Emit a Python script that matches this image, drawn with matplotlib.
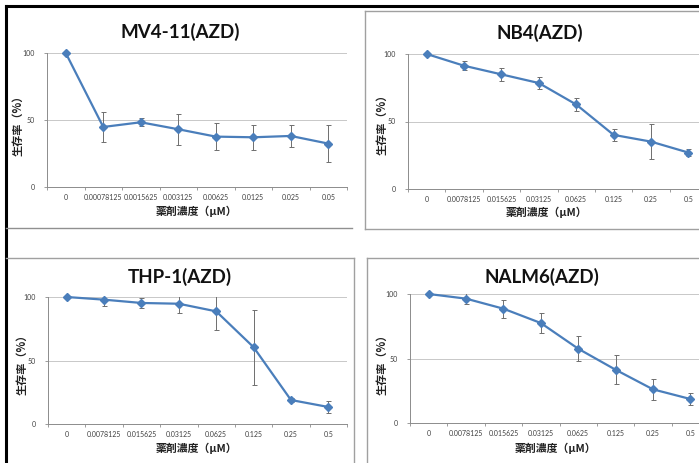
import matplotlib.pyplot as plt
from matplotlib.lines import Line2D

plt.rcParams['font.family'] = ['Lato', 'Noto Sans CJK JP', 'DejaVu Sans']

W, H = 699, 463

# --- data ---
mv4_labels = ['0', '0.00078125', '0.0015625', '0.003125', '0.00625', '0.0125', '0.025', '0.05']
mv4_values = [100, 44.8, 48.3, 43.1, 37.6, 37.1, 38.1, 32.4]
mv4_errors = [0, 11.2, 3.0, 11.7, 9.9, 9.5, 8.2, 14.1]

nb4_labels = ['0', '0.0078125', '0.015625', '0.03125', '0.0625', '0.125', '0.25', '0.5']
nb4_values = [100, 91.3, 84.9, 78.5, 62.6, 40.1, 35.1, 27.0]
nb4_errors = [0, 3.5, 4.8, 4.3, 4.8, 4.7, 12.9, 2.7]

thp1_labels = ['0', '0.0078125', '0.015625', '0.03125', '0.0625', '0.125', '0.25', '0.5']
thp1_values = [100, 97.9, 95.3, 94.7, 88.7, 60.5, 18.9, 13.4]
thp1_errors = [0, 4.8, 3.7, 7.5, 14.5, 29.5, 1.8, 4.6]

nalm6_labels = ['0', '0.0078125', '0.015625', '0.03125', '0.0625', '0.125', '0.25', '0.5']
nalm6_values = [100, 96.4, 88.6, 77.5, 57.6, 41.3, 26.1, 18.6]
nalm6_errors = [0, 4.5, 7.1, 7.6, 9.7, 11.3, 8.1, 5.0]

LINE_BLUE = '#4a7ebb'
GRID = '#c8c8c8'
AXIS = '#8c8c8c'
TEXT = '#404040'


def px_axes(fig, left, right, top, bottom):
    return fig.add_axes([left / W, 1 - bottom / H, (right - left) / W, (bottom - top) / H])


def draw_chart(fig, box, title, labels, values, errors, title_xy, ylabel_xy, xlabel_xy):
    ax = px_axes(fig, *box)
    xs = list(range(len(labels)))
    ax.errorbar(xs, values, yerr=errors, fmt='none', ecolor='#6e6e6e', elinewidth=0.7,
                capsize=1.8, capthick=0.7, zorder=2)
    ax.plot(xs, values, color=LINE_BLUE, lw=1.6, marker='D', ms=3.6, mfc=LINE_BLUE,
            mec=LINE_BLUE, zorder=3, clip_on=False)
    ax.set_xlim(-0.5, len(labels) - 0.5)
    ax.set_ylim(0, 100)
    ax.set_yticks([0, 50, 100])
    ax.set_yticklabels(['0', '50', '100'], fontsize=5, color=TEXT)
    ax.set_xticks(xs)
    ax.set_xticklabels(labels, fontsize=5, color=TEXT)
    ax.set_xticks([x - 0.5 for x in range(len(labels) + 1)], minor=True)
    ax.tick_params(axis='x', which='major', length=0, pad=5)
    ax.tick_params(axis='x', which='minor', length=2.5, color=AXIS, width=0.6)
    ax.tick_params(axis='y', length=2.5, color=AXIS, width=0.6, pad=6)
    ax.grid(axis='y', color=GRID, lw=0.7)
    ax.set_axisbelow(True)
    for side in ['top', 'right']:
        ax.spines[side].set_visible(False)
    for side in ['left', 'bottom']:
        ax.spines[side].set_color(AXIS)
        ax.spines[side].set_linewidth(0.7)

    fig.text(title_xy[0] / W, 1 - title_xy[1] / H, title, fontsize=13.5, fontweight='bold',
             ha='center', va='center', color='#111111')
    fig.text(ylabel_xy[0] / W, 1 - ylabel_xy[1] / H, '生存率（%）', fontsize=8,
             fontweight='bold', rotation=90, ha='center', va='center', color='#222222',
             family=['Noto Sans CJK JP', 'DejaVu Sans'])
    fig.text(xlabel_xy[0] / W, 1 - xlabel_xy[1] / H, '薬剤濃度（μM）', fontsize=7.8,
             fontweight='bold', ha='center', va='center', color='#222222',
             family=['Noto Sans CJK JP', 'DejaVu Sans'])
    return ax


def frame_line(fig, xs, ys, color, lw):
    fig.add_artist(Line2D([x / W for x in xs], [1 - y / H for y in ys], color=color, lw=lw,
                          transform=fig.transFigure))


def main():
    fig = plt.figure(figsize=(W / 100, H / 100), dpi=100)

    # screenshot frames around the four charts
    frame_line(fig, [6, W], [6, 6], 'black', 2.2)
    frame_line(fig, [6, 6], [6, H], 'black', 2.2)
    frame_line(fig, [6, 352], [228, 228], '#909090', 1.0)
    frame_line(fig, [365, W], [229, 229], '#a0a0a0', 1.0)
    frame_line(fig, [365, 365], [11, 229], '#a0a0a0', 1.0)
    frame_line(fig, [365, W], [11, 11], '#a0a0a0', 1.0)
    frame_line(fig, [6, 354], [258, 258], '#a0a0a0', 1.0)
    frame_line(fig, [354, 354], [258, H], '#a0a0a0', 1.0)
    frame_line(fig, [367, W], [258, 258], '#a0a0a0', 1.0)
    frame_line(fig, [367, 367], [258, H], '#a0a0a0', 1.0)

    draw_chart(fig, (47, 347, 53, 187), 'MV4-11(AZD)', mv4_labels, mv4_values, mv4_errors,
               (180, 32), (18, 123), (197, 211))
    draw_chart(fig, (408, 707, 54, 189), 'NB4(AZD)', nb4_labels, nb4_values, nb4_errors,
               (540, 33), (382, 122), (547, 212))
    draw_chart(fig, (48, 347, 297, 424), 'THP-1(AZD)', thp1_labels, thp1_values, thp1_errors,
               (180, 277), (22, 362), (197, 448))
    draw_chart(fig, (410, 709, 294, 423), 'NALM6(AZD)', nalm6_labels, nalm6_values, nalm6_errors,
               (542, 277), (382, 362), (556, 448))

    fig.savefig('out.png', dpi=100)


if __name__ == "__main__":
    main()
